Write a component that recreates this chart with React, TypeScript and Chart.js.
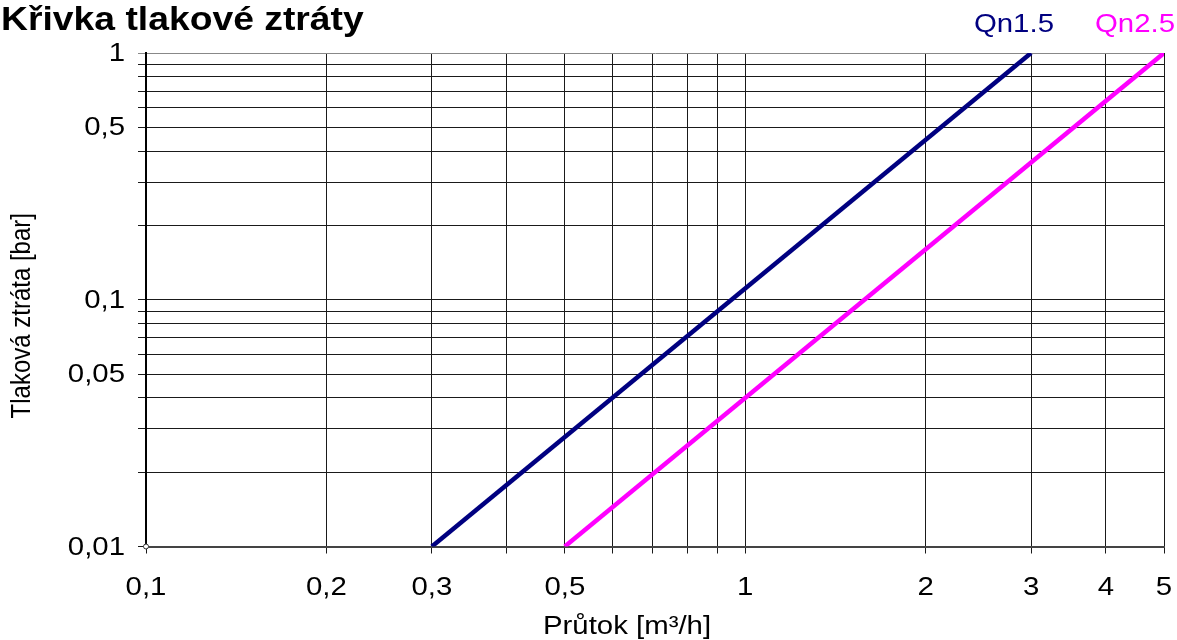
import React, { useEffect, useRef } from "react";
import { Chart, registerables } from "chart.js";

Chart.register(...registerables);

// ---- texts ----
const CHART_TITLE = "Křivka tlakové ztráty";
const X_TITLE = "Průtok [m³/h]";
const Y_TITLE = "Tlaková ztráta [bar]";

// ---- series ----
const SERIES_NAMES = ["Qn1.5", "Qn2.5"];
const SERIES_COLORS = ["#000080", "#FF00FF"];
const QN15_FLOW = [0.3, 3];
const QN15_LOSS = [0.01, 1];
const QN25_FLOW = [0.5, 5];
const QN25_LOSS = [0.01, 1];
const ORIGIN_FLOW = [0.1];
const ORIGIN_LOSS = [0.01];

// ---- axes ----
const X_MIN = 0.1;
const X_MAX = 5;
const Y_MIN = 0.01;
const Y_MAX = 1;
const X_GRID = [0.1, 0.2, 0.3, 0.4, 0.5, 0.6, 0.7, 0.8, 0.9, 1, 2, 3, 4, 5];
const X_LABELED = [0.1, 0.2, 0.3, 0.5, 1, 2, 3, 4, 5];
const Y_GRID = [
  0.01, 0.02, 0.03, 0.04, 0.05, 0.06, 0.07, 0.08, 0.09,
  0.1, 0.2, 0.3, 0.4, 0.5, 0.6, 0.7, 0.8, 0.9, 1,
];
const Y_LABELED = [0.01, 0.05, 0.1, 0.5, 1];

const FONT = '"Liberation Sans", Arial, Helvetica, sans-serif';
const STRETCH = 1.13;

const fmt = (v: number) => String(v).replace(".", ",");

const pts = (xs: number[], ys: number[]) => xs.map((x, i) => ({ x, y: ys[i] }));

function drawText(
  ctx: CanvasRenderingContext2D,
  text: string,
  x: number,
  y: number,
  font: string,
  color: string,
  align: CanvasTextAlign,
  baseline: CanvasTextBaseline,
  rotate = 0
) {
  ctx.save();
  ctx.translate(x, y);
  ctx.scale(STRETCH, 1);
  if (rotate) ctx.rotate(rotate);
  ctx.font = font;
  ctx.fillStyle = color;
  ctx.textAlign = align;
  ctx.textBaseline = baseline;
  ctx.fillText(text, 0, 0);
  ctx.restore();
}

const textPlugin = {
  id: "chartTexts",
  afterDraw(chart: any) {
    const ctx: CanvasRenderingContext2D = chart.ctx;
    const area = chart.chartArea;
    const xs = chart.scales.x;
    const ys = chart.scales.y;

    // chart title
    drawText(ctx, CHART_TITLE, 1, 30, `bold 33px ${FONT}`, "#000", "left", "alphabetic");

    // legend (text only, coloured)
    const legendFont = `26px ${FONT}`;
    ctx.save();
    ctx.font = legendFont;
    let x = chart.width - 2;
    const items = chart.data.datasets.filter((d: any) => d.label).slice().reverse();
    for (const d of items) {
      drawText(ctx, d.label, x, 32, legendFont, d.borderColor, "right", "alphabetic");
      x -= ctx.measureText(d.label).width * STRETCH + 41;
    }
    ctx.restore();

    // tick labels
    const tickFont = `26px ${FONT}`;
    for (const v of X_LABELED) {
      drawText(ctx, fmt(v), xs.getPixelForValue(v), area.bottom + 41, tickFont, "#000", "center", "middle");
    }
    for (const v of Y_LABELED) {
      drawText(ctx, fmt(v), area.left - 21, ys.getPixelForValue(v) + 1, tickFont, "#000", "right", "middle");
    }

    // x axis title
    drawText(ctx, X_TITLE, (area.left + area.right) / 2 - 28, 634, `26px ${FONT}`, "#000", "center", "alphabetic");

    // y axis title
    drawText(
      ctx,
      Y_TITLE,
      23,
      (area.top + area.bottom) / 2 + 16,
      `24px ${FONT}`,
      "#000",
      "center",
      "middle",
      -Math.PI / 2
    );
  },
};

export default function App() {
  const canvasRef = useRef<HTMLCanvasElement | null>(null);

  useEffect(() => {
    if (!canvasRef.current) return;
    const chart = new Chart(canvasRef.current, {
      type: "line",
      data: {
        datasets: [
          {
            label: SERIES_NAMES[0],
            data: pts(QN15_FLOW, QN15_LOSS),
            borderColor: SERIES_COLORS[0],
            backgroundColor: SERIES_COLORS[0],
            borderWidth: 4.5,
            pointRadius: 0,
            tension: 0,
            borderCapStyle: "butt",
          },
          {
            label: SERIES_NAMES[1],
            data: pts(QN25_FLOW, QN25_LOSS),
            borderColor: SERIES_COLORS[1],
            backgroundColor: SERIES_COLORS[1],
            borderWidth: 4.5,
            pointRadius: 0,
            tension: 0,
            borderCapStyle: "butt",
          },
          {
            label: "",
            data: pts(ORIGIN_FLOW, ORIGIN_LOSS),
            showLine: false,
            pointRadius: 2.5,
            pointBackgroundColor: "#ffffff",
            pointBorderColor: "#333333",
            pointBorderWidth: 1,
            clip: false,
          } as any,
        ],
      },
      options: {
        responsive: false,
        animation: false,
        events: [],
        layout: { padding: { top: 53, right: 13, left: 0, bottom: 0 } },
        plugins: {
          legend: { display: false },
          title: { display: false },
          tooltip: { enabled: false },
        },
        scales: {
          x: {
            type: "logarithmic",
            position: "bottom",
            min: X_MIN,
            max: X_MAX,
            afterBuildTicks: (scale: any) => {
              scale.ticks = X_GRID.map((v) => ({ value: v }));
            },
            afterFit: (scale: any) => {
              scale.height = 93.5;
              scale.paddingLeft = 0;
              scale.paddingRight = 0;
            },
            grid: {
              color: "#1a1a1a",
              lineWidth: 1,
              tickLength: 7,
              drawTicks: true,
            },
            border: { display: true, color: "#444444", width: 2 },
            ticks: { display: false, autoSkip: false, maxRotation: 0, minRotation: 0 },
            title: { display: false },
          },
          y: {
            type: "logarithmic",
            position: "left",
            min: Y_MIN,
            max: Y_MAX,
            afterBuildTicks: (scale: any) => {
              scale.ticks = Y_GRID.map((v) => ({ value: v }));
            },
            afterFit: (scale: any) => {
              scale.width = 146;
              scale.paddingTop = 0;
              scale.paddingBottom = 0;
            },
            grid: {
              color: (c: any) => (c.tick && c.tick.value === Y_MAX ? "#888888" : "#1a1a1a"),
              lineWidth: 1,
              tickLength: 8,
              drawTicks: true,
            },
            border: { display: true, color: "#000000", width: 2 },
            ticks: { display: false, autoSkip: false },
            title: { display: false },
          },
        },
      } as any,
      plugins: [textPlugin],
    });
    return () => chart.destroy();
  }, []);

  return (
    <div style={{ position: "fixed", left: 0, top: 0, width: 1177, height: 640, background: "#ffffff" }}>
      <canvas ref={canvasRef} width={1177} height={640} style={{ display: "block" }} />
    </div>
  );
}
